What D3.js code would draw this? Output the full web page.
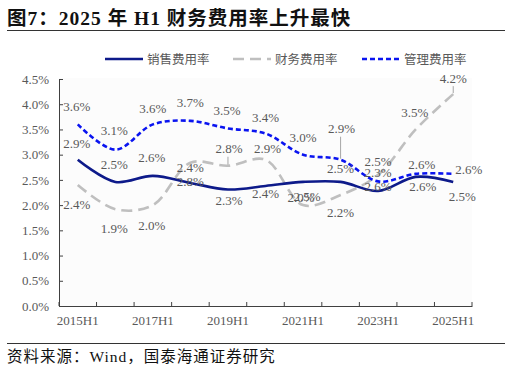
<!DOCTYPE html>
<html>
<head>
<meta charset="utf-8">
<script src="https://cdn.jsdelivr.net/npm/d3@7"></script>
<style>
body{margin:0;background:#fff;}
</style>
</head>
<body>
<div id="chart"></div>
<script>
const width = 510
const height = 369

const categories = ["2015H1","2016H1","2017H1","2018H1","2019H1","2020H1","2021H1","2022H1","2023H1","2024H1","2025H1"]
const tickLabels = ["2015H1","2017H1","2019H1","2021H1","2023H1","2025H1"]
const yTicks = [0,0.5,1,1.5,2,2.5,3,3.5,4,4.5]

const sales = [2.9,2.46,2.58,2.44,2.31,2.38,2.46,2.46,2.28,2.56,2.46]
const finance = [2.4,1.92,2.0,2.84,2.78,2.9,2.0,2.2,2.6,3.5,4.2]
const admin = [3.6,3.1,3.6,3.67,3.52,3.42,3.0,2.9,2.47,2.62,2.62]

const seriesNames = ["销售费用率","财务费用率","管理费用率"]

// label placement [dx, dy, leader]
const salesPos = [[-1,-16],[-1,-17],[-1,-18],[0,-15],[1,11],[0,8],[4,15],[0,-13],[0,-19],[7,10],[9,15]]
const financePos = [[-1,20],[-1,19],[-1,20],[0,19],[1,-17,1],[2,-11],[-2,-8],[0,17],[0,12],[-1,-17],[0,-16,1]]
const adminPos = [[-1,-18],[-1,-19],[0,-16],[0,-18],[-1,-18],[0,-16],[0,-17],[1,-31,1],[0,-20],[6,-9],[15,-4]]

const serif = "'Liberation Serif','Noto Sans CJK SC',serif"
const margin = {top:79,bottom:63,left:59,right:38}

const svg = d3.select("div#chart").append("svg").attr("width",width).attr("height",height)

// title
svg.append("text").attr("x",7).attr("y",25).attr("font-family",serif)
    .attr("font-size",19.5).attr("font-weight","bold").attr("letter-spacing",1).attr("fill","#111")
    .text("图7：2025 年 H1 财务费用率上升最快")
svg.append("line").attr("x1",7).attr("x2",505).attr("y1",30.5).attr("y2",30.5).attr("stroke","#333").attr("stroke-width",1)

svg.append("line").attr("x1",7).attr("x2",505).attr("y1",343.5).attr("y2",343.5).attr("stroke","#333").attr("stroke-width",1)
svg.append("text").attr("x",7).attr("y",362).attr("font-family",serif)
    .attr("font-size",15.5).attr("letter-spacing",1).attr("fill","#111")
    .text("资料来源：Wind，国泰海通证券研究")

const x = d3.scaleBand().domain(categories).range([margin.left, width - margin.right])
const y = d3.scaleLinear().domain([0,4.5]).range([height - margin.bottom, margin.top])
const cx = d => x(d) + x.bandwidth()/2

svg.append("rect").attr("x",margin.left).attr("y",margin.top - 1)
    .attr("width",width - margin.right - margin.left).attr("height",height - margin.bottom - margin.top + 1)
    .attr("fill","#fcfcfc")

// axes
const yAxisGroup = svg.append("g").attr("transform",`translate(${margin.left},0)`)
    .call(d3.axisLeft(y).tickValues(yTicks).tickFormat(d => d.toFixed(1) + "%").tickSize(-4).tickSizeOuter(0).tickPadding(10))
const xAxisGroup = svg.append("g").attr("transform",`translate(0,${height - margin.bottom})`)
    .call(d3.axisBottom(x).tickValues(tickLabels).tickSize(0).tickPadding(10))
xAxisGroup.selectAll(".tick line").remove()
xAxisGroup.selectAll("line.edge").data(categories.map(d => x(d)).concat([width - margin.right]))
    .enter().append("line").attr("class","edge")
    .attr("x1", d => d).attr("x2", d => d).attr("y1",0).attr("y2",-4)
;[yAxisGroup, xAxisGroup].forEach(g => {
    g.attr("font-family",serif)
    g.selectAll("path,line").attr("stroke","#404040")
    g.selectAll("text").attr("fill","#595959").attr("font-size",13)
})

const line = d3.line().x((d,i) => cx(categories[i])).y(d => y(d)).curve(d3.curveCatmullRom.alpha(0.5))

const series = [
    {values:finance, pos:financePos, color:"#bfbfbf", dash:"11,6"},
    {values:sales, pos:salesPos, color:"#0d1a8a", dash:null},
    {values:admin, pos:adminPos, color:"#0a14f0", dash:"5,3"}
]

const lineGroup = svg.append("g")
series.forEach(s => {
    lineGroup.append("path").datum(s.values)
        .attr("d", line)
        .attr("fill","none").attr("stroke",s.color).attr("stroke-width",2.6)
        .attr("stroke-dasharray",s.dash)
})

const labelGroup = svg.append("g").attr("font-family",serif)
series.forEach(s => {
    s.values.forEach((v,i) => {
        const p = s.pos[i]
        const last = i === s.values.length - 1 && s.values === admin
        const px = last ? cx(categories[i]) + 2 : cx(categories[i]) + p[0]
        const py = y(v) + p[1]
        if (p[2]) {
            labelGroup.append("line").attr("x1",cx(categories[i])).attr("x2",cx(categories[i]))
                .attr("y1",py + 8).attr("y2",y(v) - 1).attr("stroke","#a6a6a6").attr("stroke-width",1)
        }
        labelGroup.append("text")
            .attr("x",px).attr("y",py).attr("dy","0.35em")
            .attr("text-anchor", last ? "start" : "middle")
            .attr("font-size",13).attr("fill","#595959")
            .text(v.toFixed(1) + "%")
    })
})

// legend
const legendItems = [
    {name:seriesNames[0], color:"#0d1a8a", dash:null, x:105},
    {name:seriesNames[1], color:"#bfbfbf", dash:"11,6", x:233},
    {name:seriesNames[2], color:"#0a14f0", dash:"5,3", x:362}
]
const legend = svg.append("g")
legendItems.forEach(d => {
    legend.append("line").attr("x1",d.x).attr("x2",d.x + 38).attr("y1",59).attr("y2",59)
        .attr("stroke",d.color).attr("stroke-width",2.6).attr("stroke-dasharray",d.dash)
    legend.append("text").attr("x",d.x + 42).attr("y",63.5).attr("font-family","'Noto Sans CJK SC',sans-serif")
        .attr("font-size",12.5).attr("fill","#595959").text(d.name)
})
</script>
</body>
</html>
